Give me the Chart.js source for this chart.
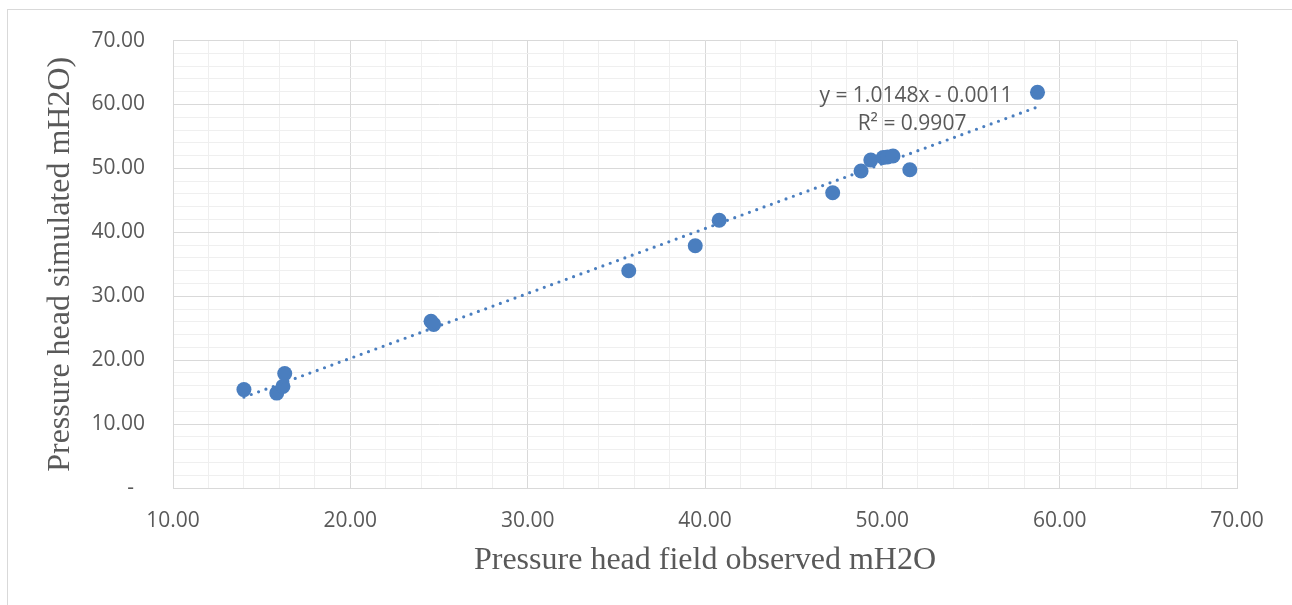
<!DOCTYPE html>
<html>
<head>
<meta charset="utf-8">
<script src="https://cdn.jsdelivr.net/npm/chart.js@4/dist/chart.umd.min.js"></script>
<style>
  html, body { margin: 0; padding: 0; background: #ffffff; }
  #wrap { position: relative; width: 1292px; height: 605px; overflow: hidden; }
  #frame { position: absolute; left: 7px; top: 9px; width: 1300px; height: 700px; border: 1px solid #d9d9d9; box-sizing: border-box; }
  #c { position: absolute; left: 0; top: 0; }
</style>
</head>
<body>
<div id="wrap">
  <div id="frame"></div>
  <canvas id="c" width="1292" height="605"></canvas>
</div>
<script>
// Observed vs simulated pressure head (mH2O)
const observed  = [14.0, 15.85, 16.2, 16.3, 24.55, 24.7, 35.7, 39.45, 40.8, 47.2, 48.8, 49.35, 50.05, 50.3, 50.6, 51.55, 58.75];
const simulated = [15.4, 14.85, 15.9, 17.9, 26.1, 25.6, 34.0, 37.9, 41.9, 46.2, 49.6, 51.3, 51.7, 51.8, 51.95, 49.8, 61.9];

// Linear trendline y = slope * x + intercept
const trendSlope = 1.0148;
const trendIntercept = -0.0011;
const trendR2 = 0.9907;
const trendLabel = ['y = 1.0148x - 0.0011', 'R\u00b2 = 0.9907'];

const xTicks = [10, 20, 30, 40, 50, 60, 70];
const yTicks = [0, 10, 20, 30, 40, 50, 60, 70];
const xTitle = 'Pressure head field observed mH2O';
const yTitle = 'Pressure head simulated mH2O)';

const points = observed.map((x, i) => ({ x: x, y: simulated[i] }));
const xMin = Math.min(...observed), xMax = Math.max(...observed);
const trend = [xMin, xMax].map(x => ({ x: x, y: trendSlope * x + trendIntercept }));

const blue = '#4a7ebf';
const textGrey = '#595959';
const tickFont = { family: 'Open Sans', size: 21 };
const titleFont = { family: 'Liberation Serif', size: 32 };

function gridColor(ctx) {
  const v = ctx.tick ? ctx.tick.value : 0;
  return (Math.abs(v % 10) < 1e-6) ? '#d9d9d9' : '#efefef';
}

const trendLabelPlugin = {
  id: 'trendLabel',
  afterDatasetsDraw(chart) {
    const { ctx, scales } = chart;
    const cx = scales.x.getPixelForValue(51.9);
    const y1 = scales.y.getPixelForValue(61.3);
    ctx.save();
    ctx.font = '21px "Open Sans"';
    ctx.fillStyle = textGrey;
    ctx.textAlign = 'center';
    ctx.textBaseline = 'middle';
    ctx.fillText(trendLabel[0], cx, y1);
    ctx.fillText(trendLabel[1], cx - 4, y1 + 28);
    ctx.restore();
  }
};

new Chart(document.getElementById('c'), {
  type: 'scatter',
  data: {
    datasets: [
      {
        label: 'Pressure head',
        data: points,
        backgroundColor: blue,
        borderColor: blue,
        pointRadius: 7.5,
        pointHoverRadius: 7.5,
        borderWidth: 0,
        order: 2
      },
      {
        type: 'line',
        label: 'Linear trend',
        data: trend,
        showLine: true,
        borderColor: blue,
        borderWidth: 3.2,
        borderDash: [0, 7.8],
        borderCapStyle: 'round',
        pointRadius: 0,
        fill: false,
        order: 1
      }
    ]
  },
  options: {
    responsive: false,
    animation: false,
    layout: { padding: { left: 0, right: 55, top: 36, bottom: 0 } },
    plugins: { legend: { display: false }, tooltip: { enabled: false } },
    scales: {
      x: {
        type: 'linear',
        min: 10, max: 70,
        afterFit(s) { s.height = 117; },
        border: { display: true, color: '#d9d9d9', width: 1 },
        grid: { color: gridColor, drawTicks: false, lineWidth: 1 },
        ticks: {
          stepSize: 2, autoSkip: false, maxRotation: 0, padding: 20,
          color: textGrey, font: tickFont,
          callback: v => xTicks.includes(v) ? v.toFixed(2) : ''
        },
        title: {
          display: true, text: xTitle, color: textGrey,
          font: titleFont,
          padding: { top: 0, bottom: 25 }
        }
      },
      y: {
        type: 'linear',
        min: 0, max: 70,
        afterFit(s) { s.width = 173; },
        border: { display: true, color: '#d9d9d9', width: 1 },
        grid: { color: gridColor, drawTicks: false, lineWidth: 1 },
        ticks: {
          stepSize: 2, autoSkip: false, padding: 28,
          color: textGrey, font: tickFont,
          callback: v => yTicks.includes(v) ? (v === 0 ? '-  ' : v.toFixed(2)) : ''
        },
        title: {
          display: true, text: yTitle, color: textGrey,
          font: titleFont,
          padding: { top: 41, bottom: 0 }
        }
      }
    }
  },
  plugins: [trendLabelPlugin]
});
</script>
</body>
</html>
